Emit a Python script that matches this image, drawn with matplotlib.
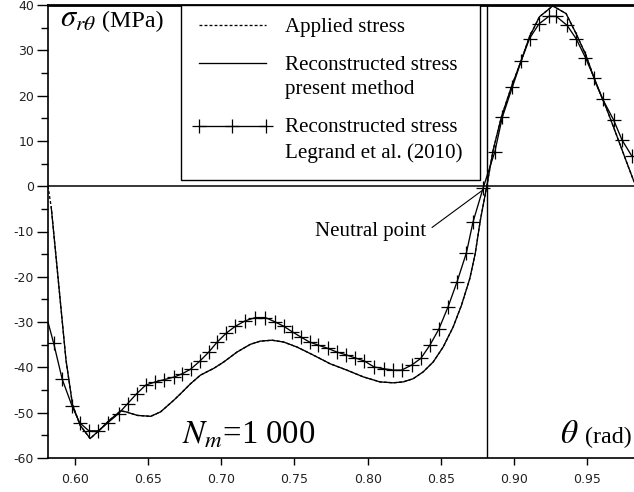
import numpy as np
import matplotlib
matplotlib.use("Agg")
import matplotlib.pyplot as plt
from matplotlib.ticker import MultipleLocator, FormatStrFormatter
from matplotlib.legend_handler import HandlerLine2D
from matplotlib.patches import Rectangle

plt.rcParams['axes.unicode_minus'] = False
plt.rcParams['mathtext.fontset'] = 'stix'

# ---------------- data ----------------
# Reconstructed stress, present method (solid)
present_theta = [0.5838, 0.5939, 0.5984, 0.6036, 0.6104, 0.6166, 0.6234, 0.6313,
                 0.6347, 0.6427, 0.6518, 0.6586, 0.6677, 0.6722, 0.6790, 0.6858,
                 0.6949, 0.7017, 0.7108, 0.7199, 0.7267, 0.7347, 0.7426, 0.7517,
                 0.7630, 0.7744, 0.7858, 0.7971, 0.8084, 0.8175, 0.8243, 0.8311,
                 0.8379, 0.8448, 0.8516, 0.8584, 0.8641, 0.8698, 0.8735, 0.8770,
                 0.8813, 0.8857, 0.8914, 0.8982, 0.9050, 0.9106, 0.9174, 0.9265,
                 0.9356, 0.9424, 0.9492, 0.9560, 0.9628, 0.9697, 0.9765, 0.9820]
present_sigma = [-4.6, -38.4, -48.3, -52.8, -55.7, -53.9, -51.7, -49.6,
                 -49.8, -50.6, -50.8, -49.8, -47.2, -45.8, -43.6, -41.7,
                 -40.2, -38.8, -36.6, -34.9, -34.2, -34.0, -34.4, -35.5,
                 -37.3, -39.2, -40.6, -42.1, -43.2, -43.4, -43.2, -42.5,
                 -41.0, -38.8, -35.5, -31.1, -26.3, -20.4, -14.9, -7.5,
                 -0.2, 7.9, 15.3, 21.9, 27.8, 33.0, 37.4, 39.8,
                 38.1, 33.7, 28.9, 22.7, 17.5, 11.6, 5.7, 1.0]

# Applied stress (dashed) - coincides with the present method except at the left end
applied_theta = [0.5816] + present_theta
applied_sigma = [0.0] + present_sigma

# Reconstructed stress, Legrand et al. (2010) (solid with + markers)
legrand_theta = [0.5816, 0.5855, 0.5913, 0.5980, 0.6032, 0.6095, 0.6161, 0.6225,
                 0.6298, 0.6360, 0.6422, 0.6484, 0.6550, 0.6610, 0.6680, 0.6733,
                 0.6790, 0.6854, 0.6915, 0.6972, 0.7035, 0.7097, 0.7165, 0.7233,
                 0.7301, 0.7364, 0.7426, 0.7483, 0.7544, 0.7603, 0.7664, 0.7728,
                 0.7789, 0.7850, 0.7914, 0.7978, 0.8044, 0.8112, 0.8175, 0.8232,
                 0.8300, 0.8364, 0.8425, 0.8486, 0.8550, 0.8611, 0.8675, 0.8720,
                 0.8790, 0.8869, 0.8920, 0.8988, 0.9050, 0.9106, 0.9170, 0.9238,
                 0.9288, 0.9363, 0.9424, 0.9488, 0.9549, 0.9606, 0.9681, 0.9738,
                 0.9806]
legrand_sigma = [-30.0, -34.7, -42.6, -48.5, -52.2, -54.0, -54.0, -52.2,
                 -50.2, -48.0, -45.8, -43.9, -43.2, -42.7, -42.1, -41.4,
                 -40.4, -38.6, -36.6, -34.4, -32.4, -30.9, -29.7, -29.0,
                 -29.0, -29.9, -30.9, -32.1, -33.3, -34.4, -35.1, -35.8,
                 -36.6, -37.2, -37.9, -38.6, -39.9, -40.3, -40.6, -40.6,
                 -39.5, -38.0, -35.1, -31.6, -26.6, -21.1, -14.7, -7.9,
                 -0.3, 7.6, 15.2, 21.8, 27.7, 32.6, 35.8, 37.5,
                 37.5, 35.5, 32.6, 28.4, 23.8, 19.2, 14.6, 10.2,
                 6.6]

neutral_theta = 0.8816
x_ticks = [0.60, 0.65, 0.70, 0.75, 0.80, 0.85, 0.90, 0.95]
y_ticks = [-60, -50, -40, -30, -20, -10, 0, 10, 20, 30, 40]
labels = ["Applied stress",
          "Reconstructed stress\npresent method",
          "Reconstructed stress\nLegrand et al. (2010)"]

# ---------------- figure ----------------
W, H = 634, 492
fig = plt.figure(figsize=(W / 100, H / 100), dpi=100)
ax = fig.add_axes([48 / W, 34 / H, 586 / W, 453 / H])

lw = 0.95
l_app, = ax.plot(applied_theta, applied_sigma, color='black', lw=lw,
                 linestyle=(0, (2.2, 1.6)), zorder=2)
l_pre, = ax.plot(present_theta, present_sigma, color='black', lw=lw, zorder=3)
l_leg, = ax.plot(legrand_theta, legrand_sigma, color='black', lw=lw, marker='+',
                 markersize=9.5, markeredgewidth=0.9,
                 markevery=list(range(1, len(legrand_theta))), zorder=4)

ax.axhline(0, color='black', lw=1.1, zorder=1)
ax.axvline(neutral_theta, color='black', lw=1.0, zorder=1)

ax.set_xlim(0.5816, 0.982)
ax.set_ylim(-60, 40)
ax.set_xticks(x_ticks)
ax.set_yticks(y_ticks)
ax.xaxis.set_major_formatter(FormatStrFormatter('%.2f'))
ax.yaxis.set_minor_locator(MultipleLocator(5))
ax.tick_params(axis='both', which='major', labelsize=9, direction='out',
               color='black', width=1.0)
ax.tick_params(axis='y', which='major', length=8, pad=2)
ax.tick_params(axis='y', which='minor', length=5, width=1.0)
ax.tick_params(axis='x', which='major', length=5, pad=6)
for lab in ax.get_xticklabels() + ax.get_yticklabels():
    lab.set_color('#222222')

ax.spines['right'].set_visible(False)
ax.spines['top'].set_linewidth(2.0)
ax.spines['left'].set_linewidth(1.2)
ax.spines['bottom'].set_linewidth(1.2)

LEG_LS = 1.41
LEG_SHIFT = 0.68


class TopLine(HandlerLine2D):
    def __init__(self, shift=0.0, **kw):
        super().__init__(**kw)
        self.shift = shift

    def create_artists(self, legend, orig_handle, xdescent, ydescent, width,
                       height, fontsize, trans):
        arts = super().create_artists(legend, orig_handle, xdescent, ydescent,
                                      width, height, fontsize, trans)
        for a in arts:
            a.set_ydata(np.asarray(a.get_ydata(), dtype=float) + self.shift * fontsize)
        return arts


# legend frame (box reaching from the top spine down to y ~ 0.6 of the axes)
box_x0, box_w = 133 / 586, 299 / 586
box_y0 = 278 / 453
ax.add_patch(Rectangle((box_x0, box_y0), box_w, 1.0 - box_y0,
                       transform=ax.transAxes, facecolor='white',
                       edgecolor='black', lw=1.0, zorder=5, clip_on=False))

leg = ax.legend([l_app, l_pre, l_leg], labels,
                loc='upper left', bbox_to_anchor=(box_x0, 0.0, box_w, 1.0),
                mode='expand', borderaxespad=0.0,
                prop={'family': 'Liberation Serif', 'size': 15.1},
                handlelength=3.75, handletextpad=0.62, labelspacing=0.9,
                borderpad=0.58, numpoints=3, frameon=False,
                handler_map={l_app: TopLine(0.0), l_pre: TopLine(LEG_SHIFT),
                             l_leg: TopLine(LEG_SHIFT, numpoints=3)})
for t in leg.get_texts():
    t.set_linespacing(LEG_LS)
leg.set_zorder(6)

serif = 'Liberation Serif'


def px(x, y):
    """pixel position measured from the top-left corner -> display coords"""
    return x, H - y


ax.text(*px(60, 27), r'$\sigma_{r\theta}$', transform=None, fontsize=22,
        ha='left', va='baseline', zorder=7)
ax.text(*px(102, 27), '(MPa)', transform=None, family=serif, fontsize=17.3,
        ha='left', va='baseline', zorder=7)
ax.text(*px(182, 443), r'$N_m$=1 000', transform=None, family=serif,
        fontsize=23.6, ha='left', va='baseline')
ax.text(*px(560, 443), r'$\theta$', transform=None, fontsize=24,
        ha='left', va='baseline')
ax.text(*px(585, 443), '(rad)', transform=None, family=serif, fontsize=17.3,
        ha='left', va='baseline')

ax.annotate('Neutral point', xy=(0.8785, -0.9), xytext=(0.8398, -9.9),
            textcoords='data', ha='right', va='center', family=serif,
            fontsize=15,
            arrowprops=dict(arrowstyle='-', lw=0.8, color='black',
                            shrinkA=3, shrinkB=0, relpos=(1.0, 0.45)))

fig.savefig('out.png', dpi=100)
